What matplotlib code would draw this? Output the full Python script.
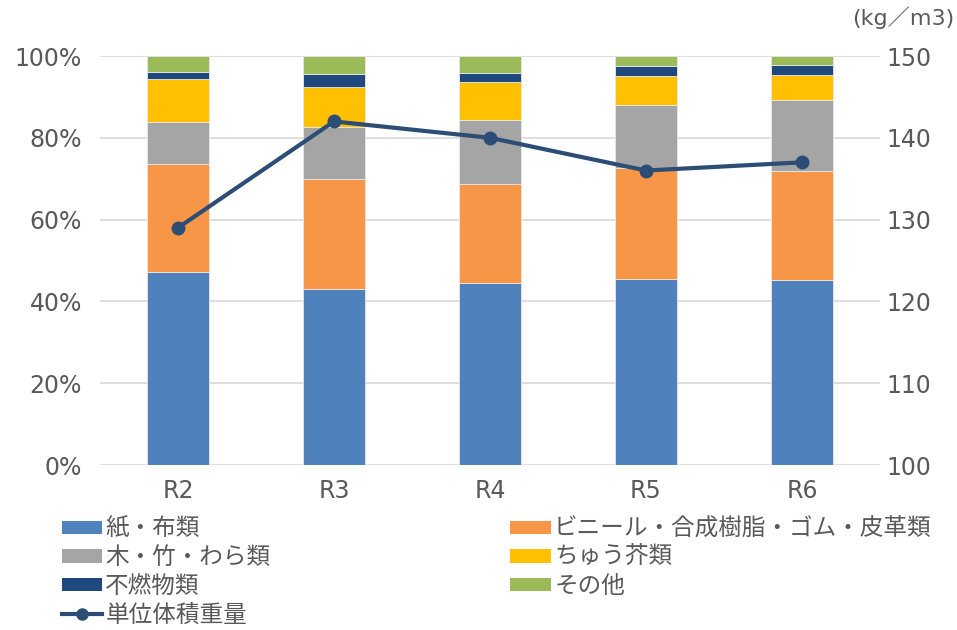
import matplotlib.pyplot as plt
from matplotlib.patches import Patch
from matplotlib.lines import Line2D
import numpy as np

plt.rcParams['font.family'] = ['Noto Sans CJK JP', 'DejaVu Sans']

years = ['R2', 'R3', 'R4', 'R5', 'R6']
paper = [47.1, 43.0, 44.5, 45.6, 45.2]
plastic = [26.4, 26.9, 24.2, 27.1, 26.6]
wood = [10.4, 12.8, 15.6, 15.3, 17.5]
kitchen = [10.5, 9.8, 9.3, 7.1, 6.0]
noncomb = [1.7, 3.2, 2.2, 2.5, 2.5]
other = [3.9, 4.3, 4.2, 2.4, 2.2]
density = [129.0, 142.0, 140.0, 136.0, 137.0]

names = ['紙・布類', 'ビニール・合成樹脂・ゴム・皮革類', '木・竹・わら類',
         'ちゅう芥類', '不燃物類', 'その他']
colors = ['#4f81bd', '#f79646', '#a5a5a5', '#ffc000', '#1f497d', '#9bbb59']
line_color = '#2c4d75'
text_color = '#595959'

fig = plt.figure(figsize=(9.57, 6.3), dpi=100)
ax = fig.add_axes([0.1045, 0.2619, 0.815, 0.6492])

x = np.arange(len(years))
bottom = np.zeros(len(years))
for vals, c in zip([paper, plastic, wood, kitchen, noncomb, other], colors):
    ax.bar(x, vals, 0.4, bottom=bottom, color=c, edgecolor='#e8e8e8', linewidth=0.6, zorder=2)
    bottom += np.array(vals)

ax.set_ylim(0, 100)
ax.set_xlim(-0.5, len(years) - 0.5)
ax.set_yticks(range(0, 101, 20))
ax.set_yticklabels([f'{v}%' for v in range(0, 101, 20)], family='DejaVu Sans')
ax.set_xticks(x)
ax.set_xticklabels(years, family='DejaVu Sans')
ax.grid(axis='y', color='#d9d9d9', linewidth=1.2, zorder=0)
ax.set_axisbelow(True)
for s in ax.spines.values():
    s.set_visible(False)
ax.tick_params(length=0, labelsize=17, colors=text_color, pad=13)
ax.tick_params(axis='x', pad=10)

ax2 = ax.twinx()
ax2.plot(x, density, color=line_color, linewidth=3, marker='o', markersize=9, zorder=5)
ax2.set_ylim(100, 150)
ax2.set_yticks(range(100, 151, 10))
ax2.set_yticklabels([str(v) for v in range(100, 151, 10)], family='DejaVu Sans')
for s in ax2.spines.values():
    s.set_visible(False)
ax2.tick_params(length=0, labelsize=17, colors=text_color, pad=5)

fig.text(0.997, 0.972, '(kg／m3)', ha='right', va='center', fontsize=16, color=text_color,
         family=['DejaVu Sans', 'Noto Sans CJK JP'])

h = [Patch(facecolor=c) for c in colors]
line_h = Line2D([], [], color=line_color, linewidth=3, marker='o', markersize=8)
leg_kw = dict(frameon=False, fontsize=17, labelcolor=text_color, handlelength=1.7,
              handleheight=0.5, handletextpad=0.15, labelspacing=0.24, borderpad=0)
fig.legend([h[0], h[2], h[4], line_h], [names[0], names[2], names[4], '単位体積重量'],
           loc='upper left', bbox_to_anchor=(0.052, 0.197), **leg_kw)
fig.legend([h[1], h[3], h[5]], [names[1], names[3], names[5]],
           loc='upper left', bbox_to_anchor=(0.521, 0.197), **leg_kw)

fig.savefig('out.png', dpi=100)
